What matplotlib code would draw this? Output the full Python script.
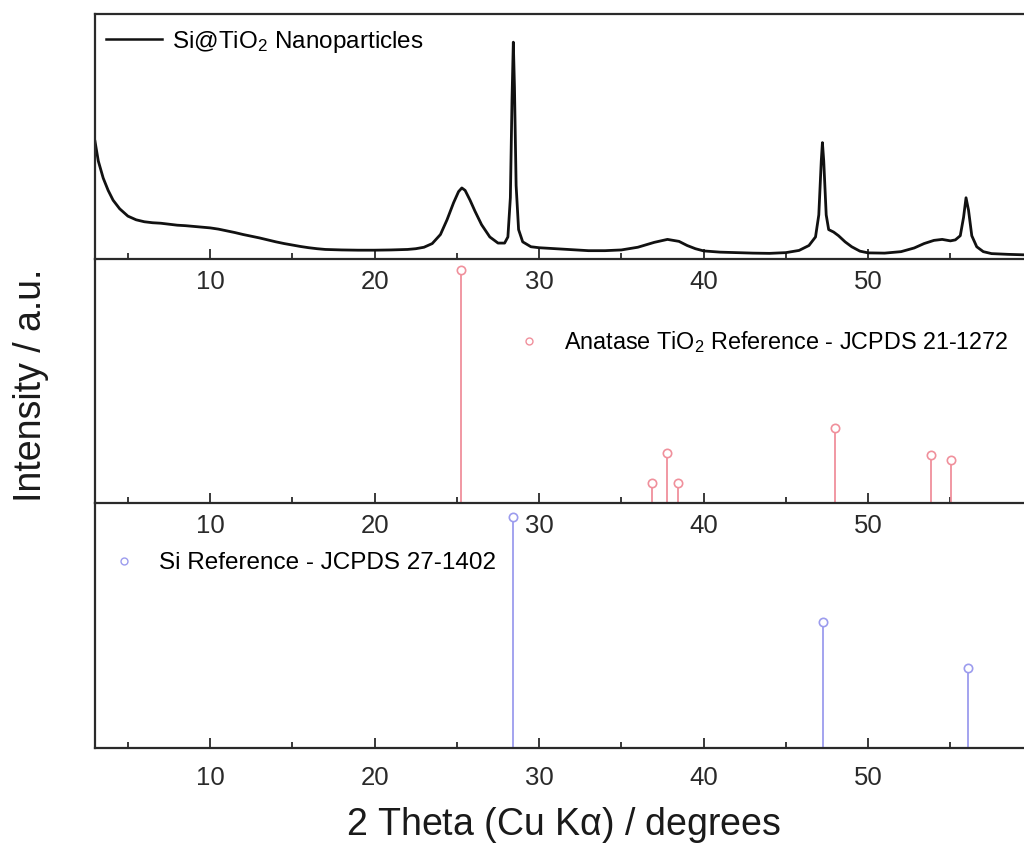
import matplotlib
matplotlib.use("Agg")
import matplotlib.pyplot as plt
from matplotlib.lines import Line2D
from matplotlib.ticker import MultipleLocator, FixedLocator

plt.rcParams['font.family'] = ['Liberation Sans', 'DejaVu Sans']
plt.rcParams['mathtext.fontset'] = 'custom'
plt.rcParams['mathtext.rm'] = 'Liberation Sans'
plt.rcParams['mathtext.default'] = 'regular'

# measured pattern (2 theta, intensity a.u.)
two_theta = [3.0, 3.2, 3.5, 3.8, 4.1, 4.5, 5.0, 5.5, 6.0, 6.5, 7.0, 7.5, 8.0, 8.5,
             9.0, 9.5, 10.0, 10.5, 11.0, 11.5, 12.0, 12.5, 13.0, 13.5, 14.0, 14.5,
             15.0, 15.5, 16.0, 16.5, 17.0, 18.0, 19.0, 20.0, 21.0, 22.0, 22.5, 23.0,
             23.5, 24.0, 24.4, 24.8, 25.1, 25.3, 25.5, 25.8, 26.1, 26.5, 27.0, 27.5,
             27.9, 28.1, 28.25, 28.35, 28.43, 28.5, 28.6, 28.75, 29.0, 29.5, 30.0,
             31.0, 32.0, 33.0, 34.0, 35.0, 36.0, 37.0, 37.8, 38.5, 39.0, 39.5, 40.0,
             41.0, 42.0, 43.0, 44.0, 45.0, 45.8, 46.4, 46.8, 47.0, 47.15, 47.22, 47.3,
             47.45, 47.6, 47.9, 48.2, 48.6, 49.0, 49.5, 50.0, 51.0, 52.0, 52.8, 53.4,
             54.0, 54.5, 55.0, 55.3, 55.6, 55.8, 55.95, 56.1, 56.3, 56.6, 57.0, 57.5,
             58.5, 59.5, 60.0]
intensity = [48, 40, 33, 28, 24, 20.5, 17.5, 16, 15.2, 14.8, 14.6, 14.2, 13.8, 13.6,
             13.3, 13.0, 12.7, 12.2, 11.5, 10.8, 10.0, 9.3, 8.6, 7.8, 7.0, 6.3,
             5.7, 5.1, 4.6, 4.2, 3.9, 3.7, 3.6, 3.6, 3.7, 3.9, 4.2, 4.8,
             6.3, 10, 16, 23, 27.5, 29, 28, 24, 19.5, 14, 9, 6.5,
             6.5, 9, 25, 65, 88.5, 70, 30, 12, 7, 5, 4.6,
             4.2, 3.8, 3.4, 3.4, 3.7, 4.8, 6.8, 8.0, 7.2, 5.5, 4.2, 3.3,
             2.8, 2.6, 2.4, 2.3, 2.6, 3.5, 5.5, 9, 18, 40, 47.5, 40,
             18, 12, 11, 9.5, 7, 5, 3.2, 2.5, 2.4, 3.0, 4.5, 6.3,
             7.6, 8.0, 7.4, 7.8, 9.5, 17, 25, 20, 9.5, 5, 3.0, 2.2,
             1.9, 1.7, 1.7]

# anatase TiO2 reference lines
anatase_pos = [25.25, 36.85, 37.75, 38.45, 48.0, 53.85, 55.05]
anatase_int = [100, 8.6, 21.6, 8.6, 32.3, 20.5, 18.3]

# Si reference lines
si_pos = [28.44, 47.25, 56.05]
si_int = [100, 54.6, 34.5]

tick_labels = [10, 20, 30, 40, 50]

red = '#F0909C'
blue = '#9C9CEE'
axis_col = '#2a2a2a'

fig = plt.figure(figsize=(10.24, 8.48), dpi=100)

W = 1024.0
H = 848.0
left = 95 / W
width = (57 * 16.45) / W
ax1 = fig.add_axes([left, (H - 259) / H, width, 245 / H])
ax2 = fig.add_axes([left, (H - 503) / H, width, 244 / H])
ax3 = fig.add_axes([left, (H - 748) / H, width, 245 / H])

for ax in (ax1, ax2, ax3):
    ax.set_xlim(3, 60)
    ax.xaxis.set_major_locator(FixedLocator(tick_labels))
    ax.xaxis.set_minor_locator(MultipleLocator(5))
    ax.tick_params(axis='x', which='major', direction='in', length=7, width=1.3,
                   labelsize=18.5, pad=8, colors=axis_col)
    ax.tick_params(axis='x', which='minor', direction='in', length=4, width=1.3,
                   colors=axis_col)
    ax.set_yticks([])
    for s in ax.spines.values():
        s.set_linewidth(1.6)
        s.set_color(axis_col)
    ax.spines['right'].set_visible(False)
    ax.patch.set_alpha(0)

ax2.spines['top'].set_visible(False)
ax3.spines['top'].set_visible(False)
ax3.tick_params(axis='x', which='major', pad=13)

# top panel: measured pattern
ax1.plot(two_theta, intensity, color='#111111', lw=2)
ax1.set_ylim(0, 100)
ax1.legend(handles=[Line2D([], [], color='#111111', lw=1.8)],
           labels=['Si@TiO$_2$ Nanoparticles'], loc='center left',
           bbox_to_anchor=(0.012, 0.886), frameon=False, fontsize=17.5,
           handlelength=2.3, handletextpad=0.4, borderpad=0, borderaxespad=0)

# middle panel: anatase reference
ax2.vlines(anatase_pos, 0, anatase_int, color=red, lw=1.3)
ax2.plot(anatase_pos, anatase_int, 'o', ms=6, mfc='white', mec=red, mew=1.2)
ax2.set_ylim(0, 104.7)
ax2.legend(handles=[Line2D([], [], ls='none', marker='o', ms=5, mfc='white',
                           mec=red, mew=1.0)],
           labels=['Anatase TiO$_2$ Reference - JCPDS 21-1272'], loc='center left',
           bbox_to_anchor=(0.438, 0.66), frameon=False, fontsize=16.8,
           handlelength=2, handletextpad=0.5, borderpad=0, borderaxespad=0)

# bottom panel: Si reference
ax3.vlines(si_pos, 0, si_int, color=blue, lw=1.3)
ax3.plot(si_pos, si_int, 'o', ms=6, mfc='white', mec=blue, mew=1.2)
ax3.set_ylim(0, 105.9)
ax3.legend(handles=[Line2D([], [], ls='none', marker='o', ms=5, mfc='white',
                           mec=blue, mew=1.0)],
           labels=['Si Reference - JCPDS 27-1402'], loc='center left',
           bbox_to_anchor=(0.005, 0.755), frameon=False, fontsize=17.5,
           handlelength=2, handletextpad=0.45, borderpad=0, borderaxespad=0)

ax3.set_xlabel(r'2 Theta (Cu K$\alpha$) / degrees', fontsize=27, color='#1a1a1a',
               labelpad=11)
fig.text(0.03, 0.546, 'Intensity / a.u.', rotation=90, fontsize=27,
         color='#1a1a1a', ha='center', va='center')

fig.savefig('out.png', dpi=100)
